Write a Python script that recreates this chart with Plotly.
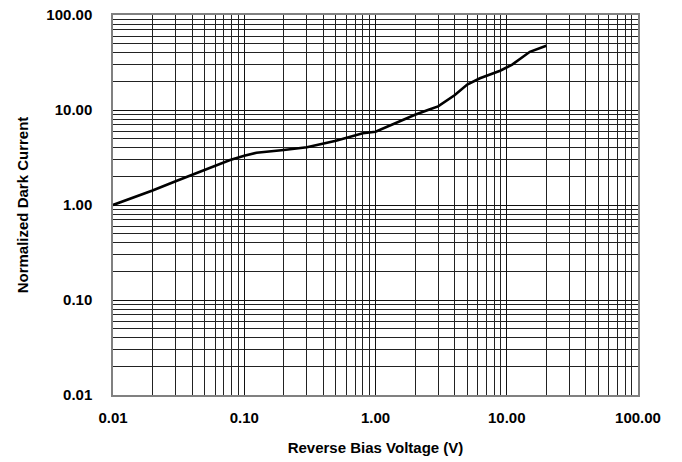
import plotly.graph_objects as go

voltage = [0.01, 0.02, 0.03, 0.05, 0.078, 0.1, 0.124, 0.2, 0.3, 0.5, 0.8, 1.0,
           1.54, 2.0, 2.6, 3.0, 4.0, 5.0, 6.25, 8.9, 11.0, 15.0, 20.0]
dark_current = [1.0, 1.42, 1.78, 2.35, 2.98, 3.3, 3.55, 3.79, 4.05, 4.75, 5.69, 5.91,
                7.7, 8.9, 10.2, 10.9, 14.3, 18.5, 21.6, 25.9, 30.0, 41.0, 47.5]

x_ticks = [0.01, 0.1, 1, 10, 100]
x_tick_labels = ["0.01", "0.10", "1.00", "10.00", "100.00"]
y_ticks = [0.01, 0.1, 1, 10, 100]
y_tick_labels = ["0.01", "0.10", "1.00", "10.00", "100.00"]

minor_vals = [m * 10.0 ** e for e in range(-2, 2) for m in range(2, 10)]

fig = go.Figure()
fig.add_trace(go.Scatter(x=voltage, y=dark_current, mode="lines",
                         line=dict(color="black", width=2.6), showlegend=False))

font_bold = "Liberation Sans"
common = dict(type="log", showline=True, mirror=True, linecolor="#808080", linewidth=1.5,
              showgrid=True, gridcolor="#111111", gridwidth=1, zeroline=False,
              automargin=False,
              ticks="", tickfont=dict(family=font_bold, size=15, color="black", weight="bold"),
              minor=dict(tickvals=minor_vals, showgrid=True, gridcolor="#222222", gridwidth=1, ticks=""))

fig.update_xaxes(range=[-2, 2], tickvals=x_ticks, ticktext=x_tick_labels,
                 ticklabelstandoff=8,
                 title=dict(text="Reverse Bias Voltage (V)",
                            font=dict(family=font_bold, size=15, color="black", weight="bold"),
                            standoff=18),
                 **common)
fig.update_yaxes(range=[-2, 2], tickvals=y_ticks, ticktext=y_tick_labels,
                 ticklabelstandoff=16,
                 title=dict(text="Normalized Dark Current",
                            font=dict(family=font_bold, size=15, color="black", weight="bold"),
                            standoff=14),
                 **common)

fig.update_layout(width=682, height=462, margin=dict(l=113, r=44, t=15, b=67),
                  plot_bgcolor="white", paper_bgcolor="white")

fig.write_html("out.html")
